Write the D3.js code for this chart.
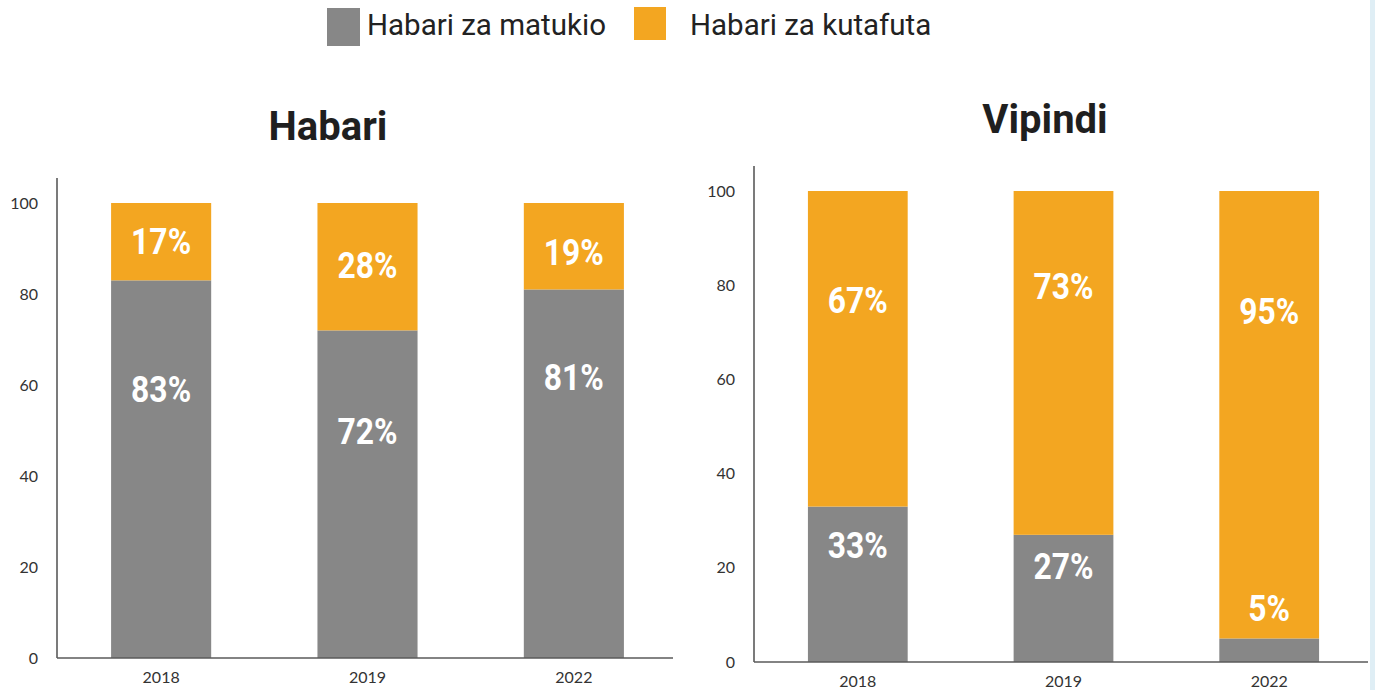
<!DOCTYPE html>
<html>
<head>
<meta charset="utf-8">
<script src="https://cdn.jsdelivr.net/npm/d3@7"></script>
<style>
  html, body { margin: 0; padding: 0; background: #fff; }
  svg { display: block; }
</style>
</head>
<body>
<svg id="chart" width="1375" height="690"></svg>
<script>
// ---- data ----
const categories = ["2018", "2019", "2022"];
const seriesNames = ["Habari za matukio", "Habari za kutafuta"];
const habariEvents = [83, 72, 81];
const habariSearch = [17, 28, 19];
const vipindiEvents = [33, 27, 5];
const vipindiSearch = [67, 73, 95];
const yTicks = [0, 20, 40, 60, 80, 100];
// label anchor heights (data units) as placed in the original
const habariEventsLabelAt = [59.1, 49.9, 61.8];
const habariSearchLabelAt = [91.6, 86.4, 89.2];
const vipindiEventsLabelAt = [24.8, 20.4, null];
const vipindiSearchLabelAt = [76.9, 79.8, 74.5];
const vipindiSmallLabelAt = [null, null, 11.5];

const colors = { events: "#878787", search: "#f3a621" };

const svg = d3.select("#chart");

// right edge stripe
svg.append("rect").attr("x", 1370).attr("y", 0).attr("width", 5).attr("height", 690).attr("fill", "#dfeef5");

// ---- legend ----
const legend = svg.append("g");
legend.append("rect").attr("x", 327).attr("y", 8).attr("width", 33).attr("height", 38).attr("fill", colors.events);
legend.append("text").attr("x", 367).attr("y", 35).text(seriesNames[0])
  .attr("font-family", "Roboto").attr("font-size", 29.5).attr("fill", "#222");
legend.append("rect").attr("x", 634).attr("y", 7).attr("width", 32).attr("height", 33).attr("fill", colors.search);
legend.append("text").attr("x", 690).attr("y", 35).text(seriesNames[1])
  .attr("font-family", "Roboto").attr("font-size", 29.5).attr("fill", "#222");

function panel(cfg) {
  const g = svg.append("g");
  const x = d3.scaleBand().domain(categories).range([cfg.x0 + 2.5, cfg.x1 + 2.5])
    .paddingInner(0.515).paddingOuter(0.25);
  const y = d3.scaleLinear().domain([0, 100]).range([cfg.yBottom, cfg.yTop]);

  // title
  g.append("text").attr("x", cfg.titleX).attr("y", cfg.titleY).attr("text-anchor", "middle")
    .attr("font-family", "Roboto").attr("font-weight", 700).attr("font-size", 40).attr("fill", "#1f1f1f")
    .text(cfg.title);

  // bars
  const rows = categories.map((c, i) => ({ c, a: cfg.events[i], b: cfg.search[i], i }));
  g.selectAll("rect.ev").data(rows).join("rect")
    .attr("x", d => x(d.c)).attr("width", x.bandwidth())
    .attr("y", d => y(d.a)).attr("height", d => y(0) - y(d.a))
    .attr("fill", colors.events);
  g.selectAll("rect.se").data(rows).join("rect")
    .attr("x", d => x(d.c)).attr("width", x.bandwidth())
    .attr("y", d => y(d.a + d.b)).attr("height", d => y(d.a) - y(d.a + d.b))
    .attr("fill", colors.search);

  // labels
  const labels = [];
  rows.forEach(d => {
    if (cfg.eventsLabelAt[d.i] != null) labels.push({ c: d.c, v: cfg.eventsLabelAt[d.i], t: d.a + "%" });
    if (cfg.searchLabelAt[d.i] != null) labels.push({ c: d.c, v: cfg.searchLabelAt[d.i], t: d.b + "%" });
    if (cfg.smallLabelAt && cfg.smallLabelAt[d.i] != null) labels.push({ c: d.c, v: cfg.smallLabelAt[d.i], t: d.a + "%" });
  });
  g.selectAll("text.lbl").data(labels).join("text")
    .attr("transform", d => `translate(${x(d.c) + x.bandwidth() / 2},${y(d.v) + 13}) scale(0.86,1)`)
    .attr("text-anchor", "middle")
    .attr("font-family", "Roboto").attr("font-weight", 700).attr("font-size", 37).attr("fill", "#fff")
    .text(d => d.t);

  // axes
  const yAxis = g.append("g").attr("transform", `translate(${cfg.x0},0)`)
    .call(d3.axisLeft(y).tickValues(yTicks).tickSize(0).tickPadding(19));
  yAxis.select(".domain").remove();
  yAxis.selectAll("text").attr("font-family", "Lato").attr("font-size", 16).attr("fill", "#333");
  g.append("line").attr("x1", cfg.x0).attr("x2", cfg.x0).attr("y1", cfg.axisTop).attr("y2", cfg.yBottom)
    .attr("stroke", "#5a5a5a").attr("stroke-width", 1.6);

  const xAxis = g.append("g").attr("transform", `translate(0,${cfg.yBottom})`)
    .call(d3.axisBottom(x).tickSize(0).tickPadding(cfg.xPad));
  xAxis.select(".domain").remove();
  xAxis.selectAll("text").attr("font-family", "Lato").attr("font-size", 16).attr("fill", "#333");
  g.append("line").attr("x1", cfg.x0).attr("x2", cfg.x1).attr("y1", cfg.yBottom).attr("y2", cfg.yBottom)
    .attr("stroke", "#5a5a5a").attr("stroke-width", 1.6);
}

panel({
  title: "Habari", titleX: 328, titleY: 140,
  x0: 57, x1: 673, yBottom: 658, yTop: 203, axisTop: 178, xPad: 14,
  events: habariEvents, search: habariSearch,
  eventsLabelAt: habariEventsLabelAt, searchLabelAt: habariSearchLabelAt
});
panel({
  title: "Vipindi", titleX: 1045, titleY: 133,
  x0: 754, x1: 1368, yBottom: 662, yTop: 191, axisTop: 166, xPad: 14,
  events: vipindiEvents, search: vipindiSearch,
  eventsLabelAt: vipindiEventsLabelAt, searchLabelAt: vipindiSearchLabelAt,
  smallLabelAt: vipindiSmallLabelAt
});
</script>
</body>
</html>
